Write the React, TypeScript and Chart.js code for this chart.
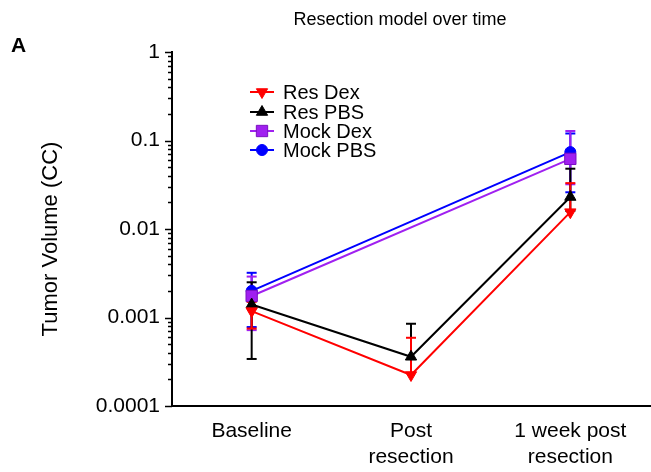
import React, { useEffect, useRef } from 'react';
import { Chart, registerables } from 'chart.js';

Chart.register(...registerables);

const categories: string[][] = [['Baseline'], ['Post', 'resection'], ['1 week post', 'resection']];
const seriesNames = ['Res Dex', 'Res PBS', 'Mock Dex', 'Mock PBS'];

const resDex = [0.00118, 0.000224, 0.0155];
const resDexHi = [0.0015, 0.00059, 0.033];
const resDexLo = [0.00075, null, null];

const resPbs = [0.0014, 0.00036, 0.023];
const resPbsHi = [0.0025, 0.00085, 0.048];
const resPbsLo = [0.00034, null, 0.016];

const mockDex = [0.00175, null, 0.062];
const mockDexHi = [0.0029, null, 0.128];
const mockDexLo = [0.00072, null, 0.032];

const mockPbs = [0.002, null, 0.074];
const mockPbsHi = [0.0032, null, 0.12];
const mockPbsLo = [0.00078, null, 0.026];

const yTickValues = [0.0001, 0.001, 0.01, 0.1, 1];
const yTickLabels = ['0.0001', '0.001', '0.01', '0.1', '1'];

const titleText = 'Resection model over time';
const panelLabel = 'A';
const yTitle = 'Tumor Volume (CC)';

const FONT = '"Liberation Sans", Arial, sans-serif';

function drawMarker(ctx: CanvasRenderingContext2D, style: string, rot: number, r: number, cx: number, cy: number) {
  ctx.beginPath();
  if (style === 'circle') {
    ctx.arc(cx, cy, r, 0, Math.PI * 2);
  } else if (style === 'rect') {
    const h = r * Math.SQRT1_2;
    ctx.rect(cx - h, cy - h, 2 * h, 2 * h);
  } else {
    let a = (rot * Math.PI) / 180;
    ctx.moveTo(cx + Math.sin(a) * r, cy - Math.cos(a) * r);
    a += (2 * Math.PI) / 3;
    ctx.lineTo(cx + Math.sin(a) * r, cy - Math.cos(a) * r);
    a += (2 * Math.PI) / 3;
    ctx.lineTo(cx + Math.sin(a) * r, cy - Math.cos(a) * r);
    ctx.closePath();
  }
  ctx.fill();
  ctx.stroke();
}

const decorPlugin = {
  id: 'decor',
  beforeDatasetsDraw(chart: any) {
    const ctx = chart.ctx;
    const x = chart.scales.x;
    const y = chart.scales.y;
    ctx.save();
    const n = chart.data.datasets.length;
    for (let d = n - 1; d >= 0; d--) {
      const ds: any = chart.data.datasets[d];
      ctx.strokeStyle = ds.borderColor;
      ctx.lineWidth = 2;
      ds.data.forEach((v: number | null, i: number) => {
        if (v == null) return;
        const px = x.getPixelForValue(i);
        const hi = ds.errHi[i] ?? v;
        const lo = ds.errLo[i] ?? v;
        const pyHi = y.getPixelForValue(hi);
        const pyLo = y.getPixelForValue(lo);
        ctx.beginPath();
        ctx.moveTo(px, pyHi);
        ctx.lineTo(px, pyLo);
        ctx.stroke();
        if (ds.errHi[i] != null) {
          ctx.beginPath();
          ctx.moveTo(px - 5, pyHi);
          ctx.lineTo(px + 5, pyHi);
          ctx.stroke();
        }
        if (ds.errLo[i] != null) {
          ctx.beginPath();
          ctx.moveTo(px - 5, pyLo);
          ctx.lineTo(px + 5, pyLo);
          ctx.stroke();
        }
      });
    }
    ctx.restore();
  },
  afterDraw(chart: any) {
    const ctx = chart.ctx;
    const y = chart.scales.y;
    const area = chart.chartArea;
    ctx.save();
    ctx.strokeStyle = '#000';
    ctx.lineWidth = 1.5;
    for (let e = -4; e <= 0; e++) {
      const base = Math.pow(10, e);
      const pm = Math.round(y.getPixelForValue(base)) + 0.5;
      ctx.beginPath();
      ctx.moveTo(area.left - 7, pm);
      ctx.lineTo(area.left, pm);
      ctx.stroke();
      if (e < 0) {
        for (let m = 2; m <= 9; m++) {
          const p = Math.round(y.getPixelForValue(base * m)) + 0.5;
          ctx.beginPath();
          ctx.moveTo(area.left - 4, p);
          ctx.lineTo(area.left, p);
          ctx.stroke();
        }
      }
    }
    ctx.fillStyle = '#000';
    ctx.font = `18px ${FONT}`;
    ctx.textAlign = 'center';
    ctx.textBaseline = 'middle';
    ctx.fillText(titleText, 400, 20);
    ctx.font = `bold 21px ${FONT}`;
    ctx.textAlign = 'left';
    ctx.textBaseline = 'alphabetic';
    ctx.fillText(panelLabel, 11, 52);
    ctx.save();
    ctx.translate(51, 239);
    ctx.rotate(-Math.PI / 2);
    ctx.font = `22px ${FONT}`;
    ctx.textAlign = 'center';
    ctx.textBaseline = 'middle';
    ctx.fillText(yTitle, 0, 0);
    ctx.restore();
    const rows = [92, 112, 131, 150];
    chart.data.datasets.forEach((ds: any, i: number) => {
      const ry = rows[i];
      ctx.strokeStyle = ds.borderColor;
      ctx.lineWidth = 2;
      ctx.beginPath();
      ctx.moveTo(250, ry);
      ctx.lineTo(274, ry);
      ctx.stroke();
      ctx.fillStyle = ds.pointBackgroundColor;
      ctx.strokeStyle = ds.pointBorderColor;
      ctx.lineWidth = 1;
      drawMarker(ctx, ds.pointStyle, ds.pointRotation || 0, ds.pointRadius, 262, ry);
      ctx.fillStyle = '#000';
      ctx.font = `20px ${FONT}`;
      ctx.textAlign = 'left';
      ctx.textBaseline = 'middle';
      ctx.fillText(seriesNames[i], 283, ry + 1);
    });
    ctx.restore();
  },
};

export default function App() {
  const ref = useRef<HTMLCanvasElement | null>(null);
  useEffect(() => {
    if (!ref.current) return;
    const mk = (label: string, data: any[], hi: any[], lo: any[], color: string, fill: string, border: string, style: string, radius: number, rot = 0) => ({
      label,
      data,
      errHi: hi,
      errLo: lo,
      borderColor: color,
      backgroundColor: color,
      borderWidth: 2,
      pointStyle: style,
      pointRotation: rot,
      pointRadius: radius,
      pointBackgroundColor: fill,
      pointBorderColor: border,
      pointBorderWidth: 1,
      spanGaps: true,
      tension: 0,
    });
    const chart = new Chart(ref.current, {
      type: 'line',
      data: {
        labels: categories as any,
        datasets: [
          mk(seriesNames[0], resDex, resDexHi, resDexLo, '#ff0000', '#ff0000', '#ff0000', 'triangle', 6.5, 180),
          mk(seriesNames[1], resPbs, resPbsHi, resPbsLo, '#000000', '#000000', '#000000', 'triangle', 6.5),
          mk(seriesNames[2], mockDex, mockDexHi, mockDexLo, '#a020f0', '#a020f0', '#7a10c0', 'rect', 8),
          mk(seriesNames[3], mockPbs, mockPbsHi, mockPbsLo, '#0000ff', '#0000ff', '#0000ff', 'circle', 5.5),
        ] as any,
      },
      options: {
        animation: false,
        responsive: false,
        devicePixelRatio: 1,
        layout: { autoPadding: false, padding: { left: 0, right: 1, top: 52, bottom: 0 } },
        plugins: { legend: { display: false }, title: { display: false }, tooltip: { enabled: false } },
        scales: {
          x: {
            type: 'category',
            offset: true,
            grid: { display: false, drawTicks: false },
            border: { display: true, color: '#000', width: 2 },
            ticks: {
              color: '#000',
              font: { family: FONT, size: 21 },
              padding: 13,
              maxRotation: 0,
              autoSkip: false,
            },
            afterFit: (s: any) => {
              s.height = 66;
              s.paddingLeft = 0;
              s.paddingRight = 0;
            },
          },
          y: {
            type: 'logarithmic',
            min: 0.0001,
            max: 1,
            grid: { display: false, drawTicks: false },
            border: { display: true, color: '#000', width: 2 },
            ticks: {
              color: '#000',
              font: { family: FONT, size: 21 },
              padding: 12,
              autoSkip: false,
              callback: (v: any) => {
                const idx = yTickValues.indexOf(v);
                return idx >= 0 ? yTickLabels[idx] : '';
              },
            },
            afterBuildTicks: (s: any) => {
              s.ticks = yTickValues.map((v) => ({ value: v, major: true }));
            },
            afterFit: (s: any) => {
              s.width = 172;
              s.paddingTop = 0;
              s.paddingBottom = 0;
            },
          },
        },
      } as any,
      plugins: [decorPlugin],
    });
    return () => chart.destroy();
  }, []);
  return (
    <div style={{ position: 'absolute', left: 0, top: 0, width: 651, height: 472, background: '#fff' }}>
      <canvas ref={ref} width={651} height={472} style={{ width: 651, height: 472, display: 'block' }} />
    </div>
  );
}
